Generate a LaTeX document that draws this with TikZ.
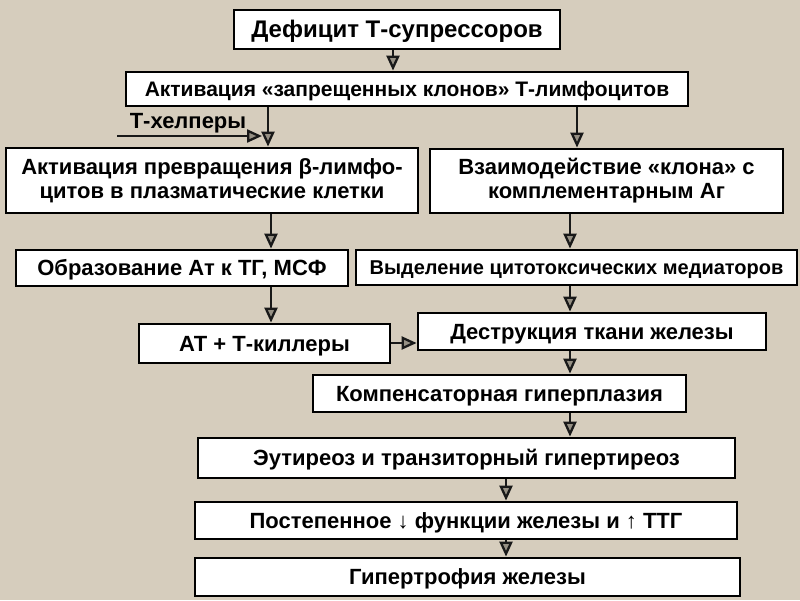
\documentclass[tikz,border=0pt]{standalone}
\usepackage{fontspec}
\setmainfont{Liberation Sans}
\usetikzlibrary{arrows.meta}
\definecolor{bgc}{RGB}{214,205,189}
\definecolor{tipc}{RGB}{150,144,132}
\begin{document}
\begin{tikzpicture}[x=1pt,y=-1pt,
  box/.style={draw=black,line width=2.8pt,fill=white,inner sep=0pt,align=center},
  one/.style={text height=#1,text depth=1pt},
  one/.default=16pt,
  arr/.style={draw=black!90,line width=2.3pt,-{Triangle[length=15pt,width=13pt,fill=tipc,line width=2.3pt]}},
  lbl/.style={inner sep=0pt}
]
\fill[bgc] (0,0) rectangle (800,600);
\useasboundingbox (0,0) rectangle (800,600);

\node[box,one=17.5pt,minimum width=326pt,minimum height=39pt,font=\bfseries\fontsize{24}{28}\selectfont] (b1) at (397,29.5) {Дефицит Т-супрессоров};
\node[box,one=15.2pt,minimum width=562pt,minimum height=34pt,font=\bfseries\fontsize{21}{24}\selectfont] (b2) at (407,89) {Активация «запрещенных клонов» Т-лимфоцитов};
\node[box,minimum width=412pt,minimum height=65pt,font=\bfseries\fontsize{22}{24}\selectfont] (b3) at (212,180.5) {Активация превращения β-лимфо-\\цитов в плазматические клетки};
\node[box,minimum width=353pt,minimum height=64pt,font=\bfseries\fontsize{22}{24}\selectfont] (b4) at (606.5,181) {Взаимодействие «клона» с\\комплементарным Аг};
\node[box,one,minimum width=332pt,minimum height=36pt,font=\bfseries\fontsize{22}{24}\selectfont] (b5) at (182,268) {Образование Ат к ТГ, МСФ};
\node[box,one=14.6pt,minimum width=441pt,minimum height=35pt,font=\bfseries\fontsize{20}{24}\selectfont] (b6) at (576.5,267.5) {Выделение цитотоксических медиаторов};
\node[box,one,minimum width=251pt,minimum height=39pt,font=\bfseries\fontsize{22}{24}\selectfont] (b7) at (264.5,343.5) {АТ + Т-киллеры};
\node[box,one,minimum width=348pt,minimum height=37pt,font=\bfseries\fontsize{22}{24}\selectfont] (b8) at (592,331.5) {Деструкция ткани железы};
\node[box,one,minimum width=373pt,minimum height=37pt,font=\bfseries\fontsize{22}{24}\selectfont] (b9) at (499.5,393.5) {Компенсаторная гиперплазия};
\node[box,one,minimum width=537pt,minimum height=40pt,font=\bfseries\fontsize{22}{24}\selectfont] (b10) at (466.5,458) {Эутиреоз и транзиторный гипертиреоз};
\node[box,one,minimum width=542pt,minimum height=37pt,font=\bfseries\fontsize{22}{24}\selectfont] (b11) at (466,520.5) {Постепенное ↓ функции железы и ↑ ТТГ};
\node[box,one,minimum width=545pt,minimum height=38pt,font=\bfseries\fontsize{22}{24}\selectfont] (b12) at (467.5,577) {Гипертрофия железы};

\node[lbl,font=\bfseries\fontsize{22}{24}\selectfont] (th) at (188,123) {Т-хелперы};

\coordinate (c1) at (393,0);
\coordinate (c2) at (268,0);
\coordinate (c3) at (577,0);
\coordinate (c4) at (271,0);
\coordinate (c5) at (570,0);
\coordinate (c6) at (506,0);
\coordinate (r1) at (0,343);
\coordinate (h0) at (117,136);
\coordinate (h1) at (262,136);

\draw[arr] (b1.south -| c1) -- (b2.north -| c1);
\draw[arr] (b2.south -| c2) -- (b3.north -| c2);
\draw[arr] (b2.south -| c3) -- (b4.north -| c3);
\draw[arr] (h0) -- (h1);
\draw[arr] (b3.south -| c4) -- (b5.north -| c4);
\draw[arr] (b4.south -| c5) -- (b6.north -| c5);
\draw[arr] (b5.south -| c4) -- (b7.north -| c4);
\draw[arr] (b6.south -| c5) -- (b8.north -| c5);
\draw[arr] (b7.east |- r1) -- (b8.west |- r1);
\draw[arr] (b8.south -| c5) -- (b9.north -| c5);
\draw[arr] (b9.south -| c5) -- (b10.north -| c5);
\draw[arr] (b10.south -| c6) -- (b11.north -| c6);
\draw[arr] (b11.south -| c6) -- (b12.north -| c6);
\end{tikzpicture}
\end{document}
